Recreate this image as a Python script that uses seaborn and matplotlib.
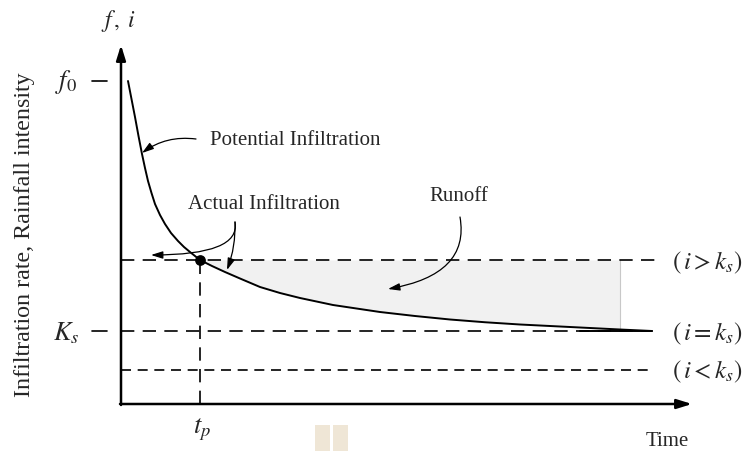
import numpy as np
import pandas as pd
import matplotlib
matplotlib.use("Agg")
import matplotlib.pyplot as plt
import seaborn as sns
from matplotlib.patches import Rectangle

# ---- data (time units, rate units) ----
time = [0.14, 0.21, 0.28, 0.35, 0.42, 0.48, 0.54, 0.61, 0.68, 0.78, 0.88,
        1.00, 1.14, 1.26, 1.38, 1.58, 1.82, 2.08, 2.38, 2.78, 3.18, 3.58,
        4.24, 5.18, 5.88, 6.58, 7.28, 7.98, 8.58, 9.18, 9.98, 10.62]
potential_infiltration = [6.46, 6.10, 5.74, 5.36, 5.00, 4.72, 4.46, 4.22, 4.00,
                          3.78, 3.60, 3.42, 3.26, 3.14, 3.04, 2.88, 2.76, 2.64,
                          2.51, 2.34, 2.22, 2.12, 1.98, 1.84, 1.76, 1.69, 1.635,
                          1.59, 1.56, 1.53, 1.49, 1.46]
f0 = 6.46
rain_high = 2.88      # i > ks
ks = 1.46             # i = ks
rain_low = 0.68       # i < ks
tp = 1.58
t_end_rain = 9.98
t_line_end = 10.62

df = pd.DataFrame({"t": time, "f": potential_infiltration})

sns.set_style("white")
plt.rcParams["font.family"] = ["Liberation Serif", "DejaVu Serif"]
plt.rcParams["mathtext.fontset"] = "stix"

fig = plt.figure(figsize=(7.49, 4.52), dpi=100)
ax = fig.add_axes([0, 0, 1, 1])
# pixel -> data helper for annotation placement (1 unit = 50 px, origin at px (121,405))
def P(px, py):
    return ((px - 121) / 50.0, (405 - py) / 50.0)
ax.set_xlim(P(0, 0)[0], P(749, 0)[0])
ax.set_ylim(P(0, 452)[1], P(0, 0)[1])
ax.axis("off")

# shaded runoff region
mask = [(t >= tp) and (t <= t_end_rain) for t in time]
tt = [t for t, m in zip(time, mask) if m]
ff = [f for f, m in zip(potential_infiltration, mask) if m]
ax.fill_between(tt, ff, [rain_high] * len(tt), color="#f1f1f1", lw=0, zorder=1)
ax.plot([t_end_rain, t_end_rain], [ks + 0.02, rain_high], color="#c8c8c8", lw=0.8, zorder=2)

# dashed levels
ax.plot([0, P(655, 0)[0]], [rain_high, rain_high], color="black", lw=1.2,
        dashes=(8, 5), zorder=3)
ax.plot([0, t_line_end], [ks, ks], color="black", lw=1.2, dashes=(8, 5), zorder=3)
ax.plot([0, t_line_end], [rain_low, rain_low], color="black", lw=1.2,
        dashes=(6, 4), zorder=3)
ax.plot([tp, tp], [0, rain_high], color="black", lw=1.2, dashes=(8, 5), zorder=3)

# potential infiltration curve
sns.lineplot(data=df, x="t", y="f", ax=ax, color="black", lw=1.4, zorder=4,
             legend=False)
ax.plot([P(580, 0)[0], t_line_end], [ks, ks], color="black", lw=1.4, zorder=4)

# ponding point
ax.scatter([tp], [rain_high], s=45, color="black", zorder=5)

# axes with arrows
arrow_kw = dict(arrowstyle="-|>,head_length=0.9,head_width=0.28", color="black",
                lw=1.8, shrinkA=0, shrinkB=0)
ax.annotate("", xy=P(121, 46), xytext=P(121, 406), arrowprops=arrow_kw)
ax.annotate("", xy=P(692, 405), xytext=P(120, 405), arrowprops=arrow_kw)

# ticks for f0 and Ks
ax.plot([P(92, 0)[0], P(107, 0)[0]], [f0, f0], color="black", lw=1.2)
ax.plot([P(92, 0)[0], P(107, 0)[0]], [ks, ks], color="black", lw=1.2)

fs = 15
ax.text(*P(66, 82), r"$f_0$", fontsize=19, ha="center", va="center")
ax.text(*P(66, 333), r"$K_s$", fontsize=19, ha="center", va="center")
ax.text(*P(119, 21), r"$f\,,\;i$", fontsize=17, ha="center", va="center")
ax.text(*P(202, 430), r"$t_p$", fontsize=19, ha="center", va="center")
ax.text(*P(667, 442), "Time", fontsize=fs, ha="center", va="center")
ax.text(*P(25, 235), "Infiltration rate, Rainfall intensity", fontsize=17.3,
        rotation=90, ha="center", va="center")

ax.text(*P(707, 263), r"$(\,i > k_s)$", fontsize=18, ha="center", va="center")
ax.text(*P(707, 334), r"$(\,i = k_s)$", fontsize=18, ha="center", va="center")
ax.text(*P(707, 372), r"$(\,i < k_s)$", fontsize=18, ha="center", va="center")

ax.text(*P(295, 141), "Potential Infiltration", fontsize=fs, ha="center", va="center")
ax.text(*P(264, 205), "Actual Infiltration", fontsize=fs, ha="center", va="center")
ax.text(*P(459, 197), "Runoff", fontsize=fs, ha="center", va="center")

ann_kw = dict(arrowstyle="-|>,head_length=0.7,head_width=0.22", color="black",
              lw=0.9, shrinkA=0, shrinkB=0)
ax.annotate("", xy=P(142, 154), xytext=P(196, 140),
            arrowprops=dict(**ann_kw, connectionstyle="arc3,rad=0.2"))
ax.annotate("", xy=P(151, 256), xytext=P(235, 223),
            arrowprops=dict(**ann_kw, connectionstyle="angle3,angleA=-80,angleB=0"))
ax.annotate("", xy=P(227, 271), xytext=P(235, 223),
            arrowprops=dict(**ann_kw, connectionstyle="arc3,rad=-0.1"))
ax.annotate("", xy=P(388, 290), xytext=P(460, 218),
            arrowprops=dict(**ann_kw, connectionstyle="angle3,angleA=-80,angleB=10"))

# small beige marks at the bottom
for x0 in (315, 333):
    ax.add_patch(Rectangle(P(x0, 452), 15 / 50.0, 26 / 50.0, color="#efe6d6",
                           lw=0, zorder=0))

fig.savefig("out.png", dpi=100)
